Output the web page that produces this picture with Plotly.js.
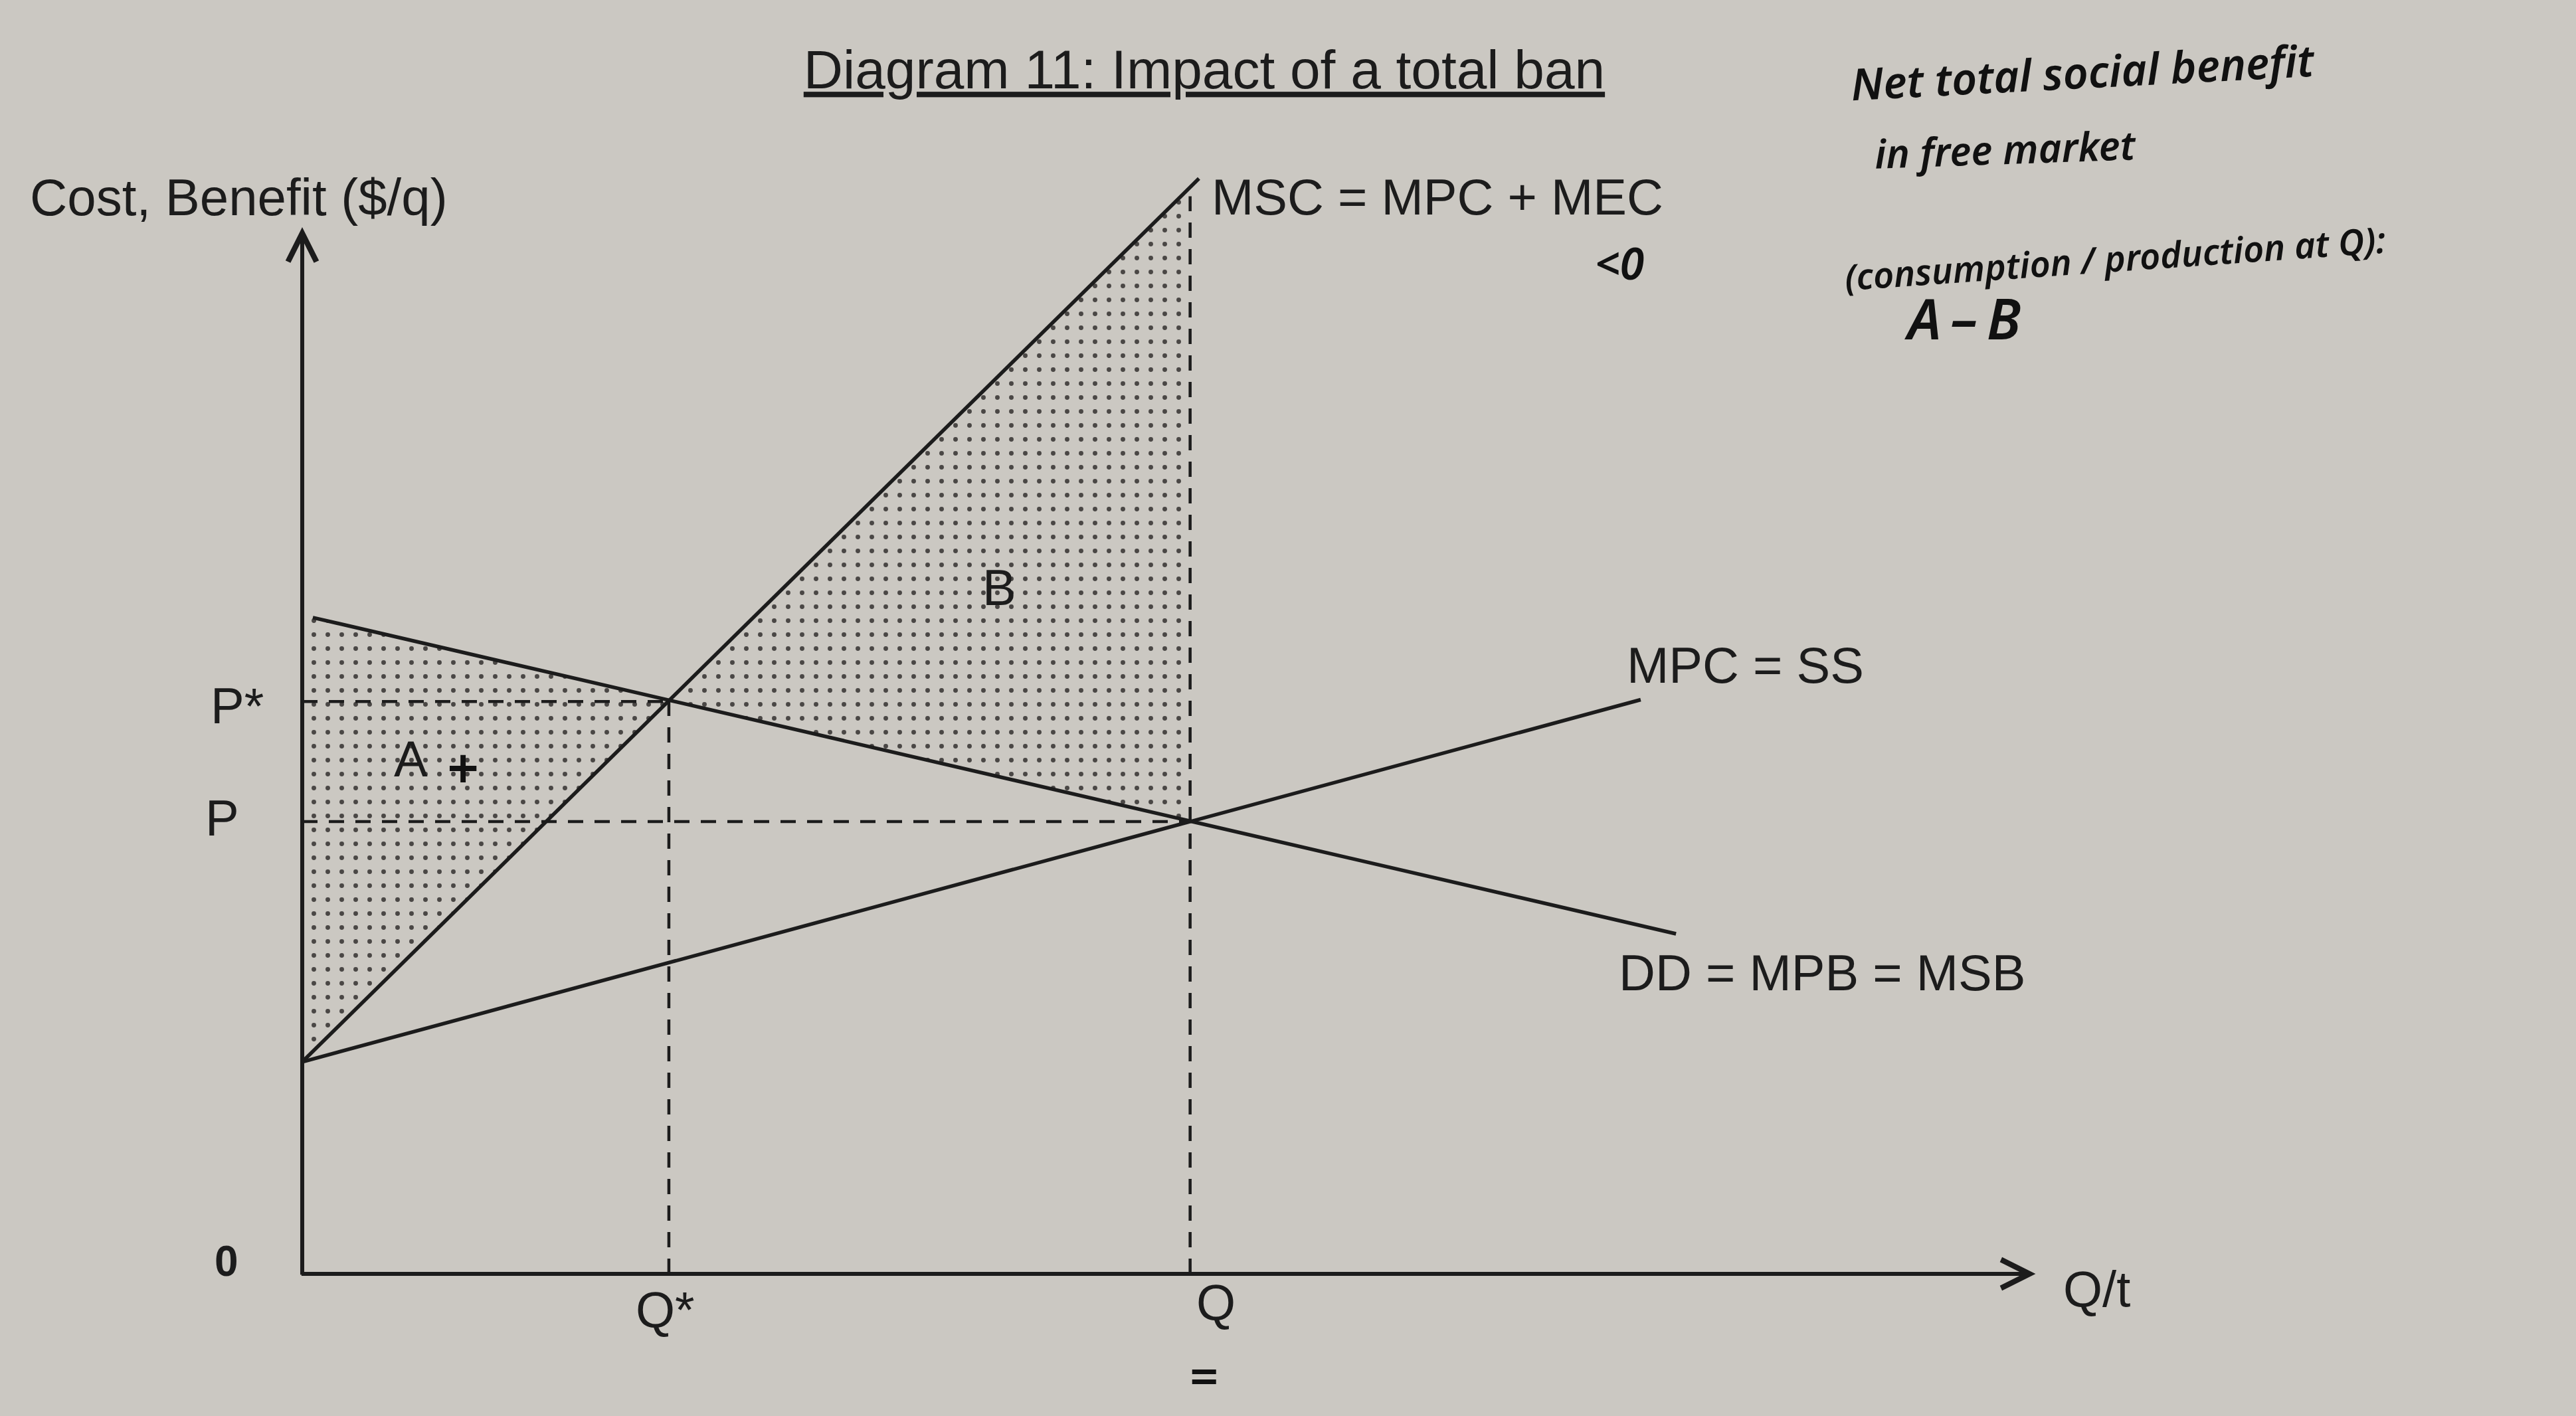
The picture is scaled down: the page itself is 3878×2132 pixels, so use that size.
<!DOCTYPE html>
<html>
<head>
<meta charset="utf-8">
<script src="https://cdn.plot.ly/plotly-3.0.1.min.js"></script>
<style>html,body{margin:0;padding:0;background:#cbc8c2;}</style>
</head>
<body>
<div id="chart" style="width:3878px;height:2132px;"></div>
<script>
// ---- values (quantity on x, $/q on y) ----
const qStar = 4.15, pStar = 6.48;      // social optimum Q*, P*
const qMkt = 10.05, pMkt = 5.12;       // free-market Q, P
const mscQ = [0, 10.15], mscC = [2.4, 12.4];     // MSC = MPC + MEC
const mpcQ = [0, 15.15], mpcC = [2.4, 6.5];      // MPC = SS
const ddQ  = [0.12, 15.55], ddB = [7.43, 3.85];  // DD = MPB = MSB
const areaAQ = [0, 4.15, 0],        areaAV = [7.45, 6.48, 2.4];   // shaded area A
const areaBQ = [4.15, 10.05, 10.05], areaBV = [6.48, 12.3, 5.12]; // shaded area B
const qMktTop = 12.2;                  // top of the dashed line at Q
const xAxisEnd = 19.62, yAxisEnd = 11.85;

const ink = '#1c1c1c';
const pen = '#111111';
const paper = '#cbc8c2';
const printed = 'Liberation Sans, Arial, sans-serif';
const hand = 'Noto Sans, DejaVu Sans, sans-serif';

const dots = {shape: '.', size: 21, solidity: 0.085, fgcolor: '#4a4745', bgcolor: 'rgba(0,0,0,0)', fillmode: 'replace'};

const traces = [
  {x: areaAQ, y: areaAV, mode: 'lines', fill: 'toself', line: {width: 0, color: 'rgba(0,0,0,0)'},
   fillcolor: 'rgba(0,0,0,0)', fillpattern: dots, hoverinfo: 'skip'},
  {x: areaBQ, y: areaBV, mode: 'lines', fill: 'toself', line: {width: 0, color: 'rgba(0,0,0,0)'},
   fillcolor: 'rgba(0,0,0,0)', fillpattern: dots, hoverinfo: 'skip'},
  // dashed guide lines
  {x: [0, qStar, null, 0, qMkt, null, qStar, qStar, null, qMkt, qMkt],
   y: [pStar, pStar, null, pMkt, pMkt, null, 0, pStar, null, 0, qMktTop],
   mode: 'lines', line: {color: ink, width: 4.5, dash: '23px,17px'}, hoverinfo: 'skip'},
  {x: mscQ, y: mscC, mode: 'lines', line: {color: ink, width: 5.5}, name: 'MSC'},
  {x: mpcQ, y: mpcC, mode: 'lines', line: {color: ink, width: 5.5}, name: 'MPC'},
  {x: ddQ, y: ddB, mode: 'lines', line: {color: ink, width: 5.5}, name: 'DD'}
];

function label(text, x, y, opts) {
  return Object.assign({text: text, x: x, y: y, xref: 'x', yref: 'y', showarrow: false,
    xanchor: 'center', yanchor: 'middle',
    font: {family: printed, size: 76, color: ink}}, opts || {});
}
function handNote(text, x, y, size, angle, opts) {
  return Object.assign({text: text, x: x, y: y, xref: 'x', yref: 'y', showarrow: false,
    xanchor: 'left', yanchor: 'middle', textangle: angle,
    font: {family: hand, size: size, color: pen, style: 'italic', weight: 600}}, opts || {});
}

const annotations = [
  // axes with open arrow heads
  {x: xAxisEnd, y: 0, ax: -0.02, ay: 0, xref: 'x', yref: 'y', axref: 'x', ayref: 'y', text: '',
   showarrow: true, arrowhead: 5, arrowsize: 1.4, arrowwidth: 6, arrowcolor: ink, font: {size: 1}},
  {x: 0, y: yAxisEnd, ax: 0, ay: -0.02, xref: 'x', yref: 'y', axref: 'x', ayref: 'y', text: '',
   showarrow: true, arrowhead: 5, arrowsize: 1.4, arrowwidth: 6, arrowcolor: ink, font: {size: 1}},
  label('Cost, Benefit ($/q)', -3.1, 12.19, {xanchor: 'left', font: {family: printed, size: 78, color: ink}}),
  label('MSC = MPC + MEC', 10.28, 12.19, {xanchor: 'left'}),
  label('MPC = SS', 14.98, 6.89, {xanchor: 'left'}),
  label('DD = MPB = MSB', 14.89, 3.41, {xanchor: 'left'}),
  label('B', 7.89, 7.77),
  label('A', 1.23, 5.83),
  label('P*', -0.42, 6.43, {xanchor: 'right'}),
  label('P', -0.7, 5.16, {xanchor: 'right'}),
  label('0', -0.86, 0.14, {font: {family: printed, size: 64, color: ink, weight: 'bold'}}),
  label('Q*', 4.11, -0.40),
  label('Q', 10.34, -0.32),
  label('Q/t', 19.92, -0.17, {xanchor: 'left'}),
  // handwritten notes
  handNote('+', 1.62, 5.74, 84, 0),
  handNote('<0', 14.62, 11.45, 66, 0),
  handNote('=', 10.02, -1.15, 76, 0),
  handNote('Net total social benefit', 17.5, 13.62, 66, -3),
  handNote('in free market', 17.77, 12.74, 60, -2),
  handNote('(consumption / production at Q):', 17.42, 11.5, 54, -4),
  handNote('A\u2009\u2013\u2009B', 18.12, 10.82, 84, 0)
];

const layout = {
  width: 3878, height: 2132,
  margin: {l: 0, r: 0, t: 0, b: 0, pad: 0},
  paper_bgcolor: paper, plot_bgcolor: paper,
  showlegend: false,
  title: {text: '<u>Diagram 11: Impact of a total ban</u>', x: 0.4675, xref: 'paper', xanchor: 'center',
          y: 0.951, yref: 'container', yanchor: 'middle',
          font: {family: printed, size: 82, color: ink}},
  xaxis: {range: [-3.421, 25.737], visible: false, fixedrange: true},
  yaxis: {range: [-1.609, 14.421], visible: false, fixedrange: true},
  annotations: annotations
};

Plotly.newPlot('chart', traces, layout, {staticPlot: true, displayModeBar: false});
</script>
</body>
</html>
